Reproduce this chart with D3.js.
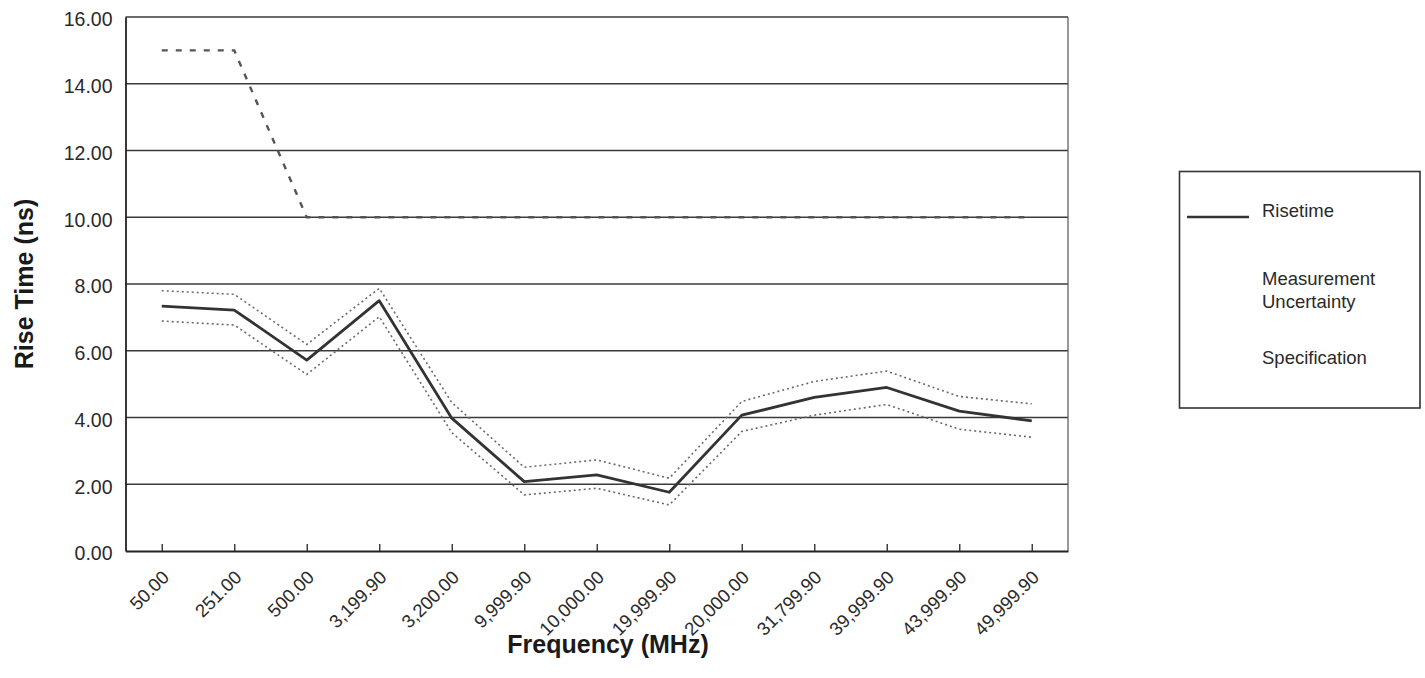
<!DOCTYPE html>
<html>
<head>
<meta charset="utf-8">
<script src="https://cdn.jsdelivr.net/npm/d3@7"></script>
<style>
  html, body { margin: 0; padding: 0; background: #fff; }
  svg { display: block; font-family: "Liberation Sans", Arial, sans-serif; }
</style>
</head>
<body>
<svg id="chart" width="1425" height="678"></svg>
<script>
const categories = ["50.00","251.00","500.00","3,199.90","3,200.00","9,999.90","10,000.00","19,999.90","20,000.00","31,799.90","39,999.90","43,999.90","49,999.90"];
const risetime   = [7.34, 7.22, 5.72, 7.50, 3.98, 2.08, 2.28, 1.76, 4.07, 4.60, 4.90, 4.19, 3.90];
const upperUnc   = [7.80, 7.69, 6.19, 7.87, 4.45, 2.51, 2.73, 2.18, 4.48, 5.08, 5.39, 4.63, 4.41];
const lowerUnc   = [6.89, 6.77, 5.29, 7.02, 3.55, 1.68, 1.88, 1.38, 3.58, 4.07, 4.39, 3.65, 3.41];
const specification = [15, 15, 10, 10, 10, 10, 10, 10, 10, 10, 10, 10, 10];
const yTicks = [0, 2, 4, 6, 8, 10, 12, 14, 16];
const legendItems = [["Risetime"], ["Measurement", "Uncertainty"], ["Specification"]];

const svg = d3.select("#chart");
const plot = { left: 125.5, right: 1068, top: 17, bottom: 551 };

const x = d3.scalePoint().domain(categories).range([plot.left, plot.right]).padding(0.5);
const y = d3.scaleLinear().domain([0, 16]).range([plot.bottom, plot.top]);

// gridlines
svg.append("g").selectAll("line").data(yTicks.filter(d => d > 0)).join("line")
  .attr("x1", plot.left).attr("x2", plot.right)
  .attr("y1", d => y(d)).attr("y2", d => y(d))
  .attr("stroke", "#3a3a3a").attr("stroke-width", 1.4);

// right border
svg.append("line").attr("x1", plot.right).attr("x2", plot.right)
  .attr("y1", plot.top).attr("y2", plot.bottom)
  .attr("stroke", "#555").attr("stroke-width", 1.2);

// y axis
const yAxis = d3.axisLeft(y).tickValues(yTicks).tickSize(0).tickPadding(13)
  .tickFormat(d3.format(".2f"));
const gy = svg.append("g").attr("transform", `translate(${plot.left},0)`).call(yAxis);
gy.select(".domain").attr("stroke", "#222").attr("stroke-width", 1.8);
gy.selectAll("text").attr("font-size", "19.5px").attr("fill", "#2a2a2a")
  .attr("font-family", "Liberation Sans, Arial, sans-serif").attr("dy", "0.45em");

// x axis (ticks inside)
const xAxis = d3.axisBottom(x).tickSizeInner(-7).tickSizeOuter(0).tickFormat(() => "");
const gx = svg.append("g").attr("transform", `translate(0,${plot.bottom})`).call(xAxis);
gx.select(".domain").attr("stroke", "#222").attr("stroke-width", 1.8);
gx.selectAll(".tick line").attr("stroke", "#333").attr("stroke-width", 1.4);

// rotated x labels
svg.append("g").selectAll("text").data(categories).join("text")
  .attr("transform", d => `translate(${x(d) - 1},${plot.bottom + 18}) rotate(-45)`)
  .attr("text-anchor", "end")
  .attr("dy", "0.72em")
  .attr("font-size", "18.5px")
  .attr("fill", "#2a2a2a")
  .text(d => d);

// lines
const line = d3.line().x((d, i) => x(categories[i])).y(d => y(d));

svg.append("path").datum(specification).attr("d", line)
  .attr("fill", "none").attr("stroke", "#555").attr("stroke-width", 2.4)
  .attr("stroke-dasharray", "6,8");

svg.append("path").datum(upperUnc).attr("d", line)
  .attr("fill", "none").attr("stroke", "#6a6a6a").attr("stroke-width", 1.6)
  .attr("stroke-dasharray", "2,3");
svg.append("path").datum(lowerUnc).attr("d", line)
  .attr("fill", "none").attr("stroke", "#6a6a6a").attr("stroke-width", 1.6)
  .attr("stroke-dasharray", "2,3");

svg.append("path").datum(risetime).attr("d", line)
  .attr("fill", "none").attr("stroke", "#333").attr("stroke-width", 2.8)
  .attr("stroke-linejoin", "round");

// axis titles
svg.append("text")
  .attr("x", 608).attr("y", 653)
  .attr("text-anchor", "middle")
  .attr("font-size", "25px").attr("font-weight", "bold").attr("fill", "#1a1a1a")
  .text("Frequency (MHz)");

svg.append("text")
  .attr("transform", `translate(33,${(plot.top + plot.bottom) / 2}) rotate(-90)`)
  .attr("text-anchor", "middle")
  .attr("font-size", "25px").attr("font-weight", "bold").attr("fill", "#1a1a1a")
  .text("Rise Time (ns)");

// legend
const lg = svg.append("g");
lg.append("rect").attr("x", 1179.5).attr("y", 171.5).attr("width", 240.5).attr("height", 236.5)
  .attr("fill", "none").attr("stroke", "#333").attr("stroke-width", 1.6);
lg.append("line").attr("x1", 1187).attr("x2", 1249).attr("y1", 217).attr("y2", 217)
  .attr("stroke", "#333").attr("stroke-width", 2.4);
const baselines = [216.5, 285, 364];
legendItems.forEach((lines, i) => {
  const t = lg.append("text").attr("x", 1262).attr("y", baselines[i])
    .attr("font-size", "18.5px").attr("fill", "#2a2a2a");
  lines.forEach((s, j) => {
    t.append("tspan").attr("x", 1262).attr("dy", j === 0 ? 0 : 23).text(s);
  });
});
</script>
</body>
</html>
